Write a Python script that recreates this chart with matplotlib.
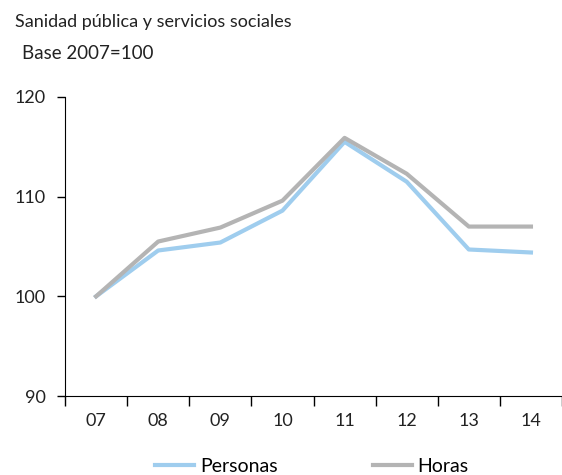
import numpy as np
import matplotlib
matplotlib.use("Agg")
import matplotlib.pyplot as plt

plt.rcParams['font.family'] = ['Lato', 'DejaVu Sans']

years = ['07', '08', '09', '10', '11', '12', '13', '14']
personas = [100, 104.6, 105.4, 108.6, 115.5, 111.5, 104.7, 104.4]
horas = [100, 105.5, 106.9, 109.6, 115.9, 112.3, 107.0, 107.0]

fig = plt.figure(figsize=(5.62, 4.75), dpi=100)
ax = fig.add_axes([0.1157, 0.1663, 0.8843, 0.6295])

x = np.arange(len(years))
ax.plot(x, personas, color='#9fcdee', lw=3, label='Personas')
ax.plot(x, horas, color='#b4b4b4', lw=3, label='Horas')

ax.set_xlim(-0.5, len(years) - 0.5)
ax.set_ylim(90, 120)
ax.set_yticks([90, 100, 110, 120])
ax.set_xticks(x)
ax.set_xticklabels(years)
ax.set_xticks(np.arange(-0.5, len(years)), minor=True)
ax.tick_params(axis='x', which='major', length=0, pad=12, labelsize=13)
ax.tick_params(axis='x', which='minor', length=7, width=1)
ax.tick_params(axis='y', length=6, width=1, labelsize=13, pad=8)
ax.tick_params(colors='black', which='both', labelcolor='#222222')

ax.spines['top'].set_visible(False)
ax.spines['right'].set_visible(False)

fig.text(0.027, 0.953, 'Sanidad pública y servicios sociales', fontsize=13, va='center', color='#222222')
fig.text(0.039, 0.888, 'Base 2007=100', fontsize=13.5, va='center', color='#222222')

fig.legend(loc='center', bbox_to_anchor=(0.555, 0.018), ncol=2, frameon=False,
           fontsize=14, handlelength=2.0, handletextpad=0.3, columnspacing=4.9)

fig.savefig('out.png', dpi=100)
